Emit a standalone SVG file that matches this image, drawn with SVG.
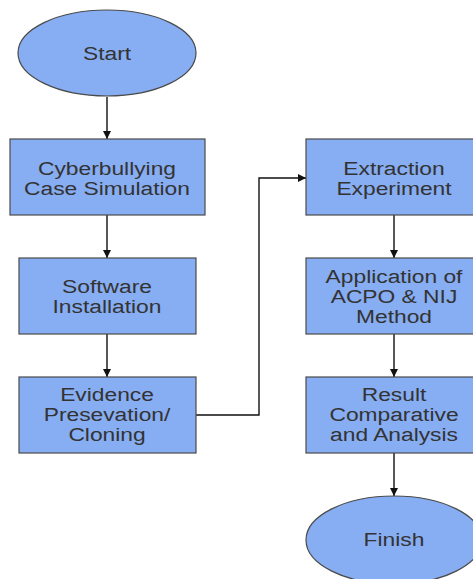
<svg xmlns="http://www.w3.org/2000/svg" width="473" height="579" viewBox="0 0 473 579">
<defs>
<style>
.shape{fill:#87adf2;stroke:#4a4a4a;stroke-width:1.2}
.lbl{font-family:"Liberation Sans",Arial,sans-serif;font-size:19px;fill:#333;text-anchor:middle}
.con{fill:none;stroke:#111;stroke-width:1.4}
</style>
<marker id="ah" viewBox="0 0 10 10" refX="10" refY="5" markerWidth="8" markerHeight="8" markerUnits="userSpaceOnUse" orient="auto">
<path d="M0,0 L10,5 L0,10 z" fill="#111"/>
</marker>
</defs>
<rect width="473" height="579" fill="#fff"/>
<g id="connectors">
<line class="con" x1="107" y1="97" x2="107" y2="139" marker-end="url(#ah)"/>
<line class="con" x1="107" y1="215" x2="107" y2="258" marker-end="url(#ah)"/>
<line class="con" x1="107" y1="334" x2="107" y2="377" marker-end="url(#ah)"/>
<polyline class="con" points="196,415 259,415 259,178 306,178" marker-end="url(#ah)"/>
<line class="con" x1="394" y1="215" x2="394" y2="258" marker-end="url(#ah)"/>
<line class="con" x1="394" y1="334" x2="394" y2="377" marker-end="url(#ah)"/>
<line class="con" x1="394" y1="453" x2="394" y2="496" marker-end="url(#ah)"/>
</g>
<g id="start">
<ellipse class="shape" cx="107" cy="53" rx="89" ry="43"/>
<g transform="translate(107,0) scale(1.2,1)"><text class="lbl" x="0" y="60">Start</text></g>
</g>
<g id="case-simulation">
<rect class="shape" x="10" y="139" width="195" height="76"/>
<g transform="translate(107,0) scale(1.2,1)"><text class="lbl" x="0" y="175.5">Cyberbullying</text><text class="lbl" x="0" y="195">Case Simulation</text></g>
</g>
<g id="software-installation">
<rect class="shape" x="19" y="258" width="177" height="76"/>
<g transform="translate(107,0) scale(1.2,1)"><text class="lbl" x="0" y="293.5">Software</text><text class="lbl" x="0" y="313.5">Installation</text></g>
</g>
<g id="evidence-preservation">
<rect class="shape" x="19" y="377" width="177" height="76"/>
<g transform="translate(107,0) scale(1.2,1)"><text class="lbl" x="0" y="401.5">Evidence</text><text class="lbl" x="0" y="421.5">Presevation/</text><text class="lbl" x="0" y="441.5">Cloning</text></g>
</g>
<g id="extraction-experiment">
<rect class="shape" x="306" y="139" width="176" height="76"/>
<g transform="translate(394,0) scale(1.2,1)"><text class="lbl" x="0" y="175">Extraction</text><text class="lbl" x="0" y="195">Experiment</text></g>
</g>
<g id="acpo-nij">
<rect class="shape" x="306" y="258" width="176" height="76"/>
<g transform="translate(394,0) scale(1.2,1)"><text class="lbl" x="0" y="283.5">Application of</text><text class="lbl" x="0" y="303.5">ACPO &amp; NIJ</text><text class="lbl" x="0" y="323.5">Method</text></g>
</g>
<g id="result-analysis">
<rect class="shape" x="306" y="377" width="176" height="76"/>
<g transform="translate(394,0) scale(1.2,1)"><text class="lbl" x="0" y="401.5">Result</text><text class="lbl" x="0" y="421.5">Comparative</text><text class="lbl" x="0" y="441.5">and Analysis</text></g>
</g>
<g id="finish">
<ellipse class="shape" cx="394" cy="540" rx="88" ry="44"/>
<g transform="translate(394,0) scale(1.2,1)"><text class="lbl" x="0" y="546.5">Finish</text></g>
</g>
</svg>
